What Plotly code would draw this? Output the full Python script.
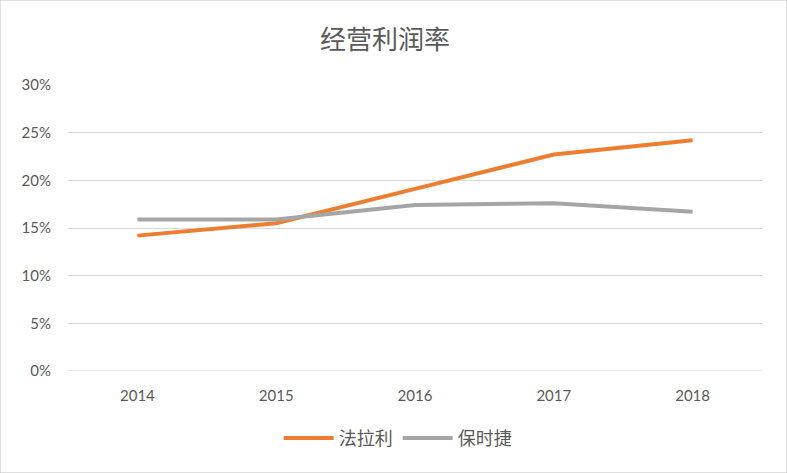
import plotly.graph_objects as go

years = ["2014", "2015", "2016", "2017", "2018"]
ferrari = [0.142, 0.155, 0.191, 0.227, 0.242]
porsche = [0.159, 0.159, 0.174, 0.176, 0.167]
series_names = ["法拉利", "保时捷"]
title_text = "经营利润率"

font_txt = "Lato, 'Noto Sans CJK SC', sans-serif"
cjk = "'Noto Sans CJK SC', sans-serif"

fig = go.Figure()
fig.add_trace(go.Scatter(x=years, y=ferrari, mode="lines", name=series_names[0],
                         line=dict(color="#ED7D31", width=4)))
fig.add_trace(go.Scatter(x=years, y=porsche, mode="lines", name=series_names[1],
                         line=dict(color="#A5A5A5", width=4)))

fig.update_layout(
    width=787, height=473,
    margin=dict(l=68, r=25, t=85, b=102),
    paper_bgcolor="white", plot_bgcolor="white",
    title=dict(text=title_text, x=385/787, xanchor="center", y=1-40/473, yanchor="middle",
               font=dict(family=cjk, size=26, color="#595959")),
    showlegend=True,
    legend=dict(orientation="h", x=0.475, xanchor="center", y=-0.235, yanchor="middle",
                font=dict(family=cjk, size=18, color="#595959"), itemwidth=50,
                traceorder="normal"),
    xaxis=dict(type="category", range=[-0.5, 4.5], showgrid=False, zeroline=False,
               showline=False, ticks="", ticklabelstandoff=14,
               tickfont=dict(family=font_txt, size=15, color="#595959")),
    yaxis=dict(range=[0, 0.30], dtick=0.05, tickformat=".0%", showgrid=True,
               gridcolor="#D9D9D9", gridwidth=1, zeroline=False, showline=False,
               ticks="", ticklabelstandoff=16,
               tickfont=dict(family=font_txt, size=15, color="#595959")),
)
fig.add_shape(type="line", xref="x domain", yref="y", x0=0, x1=1, y0=0, y1=0,
              line=dict(color="#D9D9D9", width=1))
fig.add_shape(type="rect", xref="paper", yref="paper", x0=-68/694, x1=1+25/694,
              y0=-102/286, y1=1+85/286, line=dict(color="#BFBFBF", width=1), layer="below")

fig.write_html("out.html")
